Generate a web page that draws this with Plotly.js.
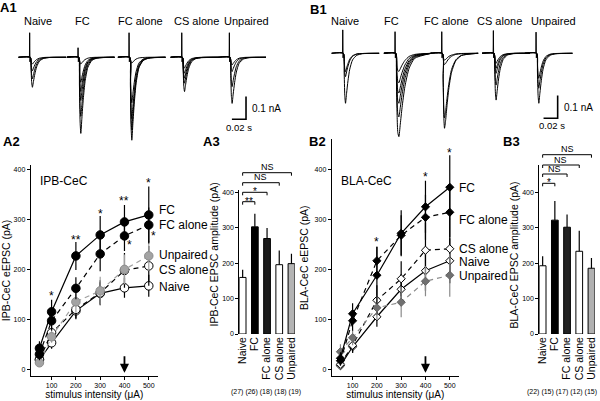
<!DOCTYPE html>
<html><head><meta charset="utf-8">
<script src="https://cdn.plot.ly/plotly-3.0.1.min.js"></script>
<style>html,body{margin:0;padding:0;background:#fff}#chart{width:600px;height:401px}</style>
</head><body><div id="chart"></div>
<script>
// ---------------- DATA ----------------
const groups = ['Naive', 'FC', 'FC alone', 'CS alone', 'Unpaired'];
const intensities = [50, 100, 200, 300, 400, 500];
const intensityTicks = [100, 200, 300, 400, 500];
const ampTicks = [0, 100, 200, 300, 400];

// A2: IPB-CeC eEPSC (pA)
const ipbNaive    = [19, 53, 117, 152, 163, 167];
const ipbFC       = [42, 115, 227, 269, 295, 309];
const ipbFCalone  = [30, 97, 162, 231, 267, 289];
const ipbCSalone  = [19, 73, 120, 153, 198, 207];
const ipbUnpaired = [13, 65, 135, 157, 200, 227];
const ipbNaiveErr    = [8, 12, 15, 22, 20, 22];
const ipbFCErr       = [14, 24, 28, 38, 34, 57];
const ipbFCaloneErr  = [12, 20, 22, 35, 30, 35];
const ipbCSaloneErr  = [8, 12, 20, 25, 35, 40];
const ipbUnpairedErr = [8, 12, 22, 28, 30, 30];

// B2: BLA-CeC eEPSC (pA)
const blaNaive    = [7, 45, 105, 160, 197, 217];
const blaFC       = [22, 111, 188, 272, 325, 364];
const blaFCalone  = [17, 97, 217, 268, 304, 314];
const blaCSalone  = [10, 48, 138, 181, 238, 241];
const blaUnpaired = [35, 63, 123, 134, 176, 188];
const blaNaiveErr    = [6, 12, 20, 30, 40, 45];
const blaFCErr       = [12, 21, 57, 46, 52, 64];
const blaFCaloneErr  = [10, 20, 28, 40, 45, 50];
const blaCSaloneErr  = [6, 15, 30, 35, 55, 60];
const blaUnpairedErr = [15, 15, 25, 30, 30, 43];

// A3 / B3 bar charts
const ipbBar    = [160, 303, 270, 196, 199];
const ipbBarErr = [22, 37, 30, 40, 28];
const ipbN      = ['(27)', '(26)', '(18)', '(18)', '(19)'];
const blaBar    = [193, 322, 302, 234, 186];
const blaBarErr = [27, 54, 36, 58, 29];
const blaN      = ['(22)', '(15)', '(17)', '(12)', '(15)'];

// A1 / B1 example current traces (time in ms, current in pA)
const traceTime = [-16, 1, 2, 3, 4, 5.5, 7.5, 10, 14, 20, 28, 52];
const artifactTime = [-0.2, 0.1, 0.5, 1.0];
const a1ArtifactUp = [108, 42, 108, 108, 108];
const b1ArtifactUp = [103, 95, 95, 100, 93];

const a1Naive = [
  [0,0,-46,-112,-132,-106,-73,-42,-17,-5,-1,0],
  [0,0,-33,-81,-95,-76,-52,-30,-12,-4,-1,0],
  [0,0,-21,-51,-60,-48,-33,-19,-8,-2,-1,0],
  [0,0,-11,-26,-30,-24,-17,-10,-4,-1,0,0]];
const a1FC = [
  [0,0,-117,-285,-335,-268,-184,-107,-44,-13,-3,0],
  [0,0,-91,-221,-260,-208,-143,-83,-34,-10,-3,0],
  [0,0,-67,-162,-190,-152,-105,-61,-25,-8,-2,0],
  [0,0,-53,-128,-150,-120,-83,-48,-20,-6,-2,0],
  [0,0,-39,-94,-110,-88,-61,-35,-14,-4,-1,0],
  [0,0,-11,-26,-30,-24,-17,-10,-4,-1,0,0]];
const a1FCalone = [
  [0,0,-128,-310,-365,-292,-201,-117,-47,-15,-4,0],
  [0,0,-112,-272,-320,-256,-176,-102,-42,-13,-3,0],
  [0,0,-95,-230,-270,-216,-149,-86,-35,-11,-3,0],
  [0,0,-70,-170,-200,-160,-110,-64,-26,-8,-2,0],
  [0,0,-9,-22,-26,-21,-14,-8,-3,-1,0,0]];
const a1CSalone = [
  [0,0,-53,-128,-151,-121,-83,-48,-20,-6,-2,0],
  [0,0,-40,-97,-114,-91,-63,-36,-15,-5,-1,0],
  [0,0,-32,-78,-92,-74,-51,-29,-12,-4,-1,0],
  [0,0,-25,-60,-70,-56,-39,-22,-9,-3,-1,0],
  [0,0,-17,-41,-48,-38,-26,-15,-6,-2,0,0]];
const a1Unpaired = [
  [0,0,-71,-173,-203,-162,-112,-65,-26,-8,-2,0],
  [0,0,-45,-110,-129,-103,-71,-41,-17,-5,-1,0],
  [0,0,-22,-54,-63,-50,-35,-20,-8,-3,-1,0],
  [0,0,-12,-29,-34,-27,-19,-11,-4,-1,0,0]];

const b1Naive = [
  [0,0,-77,-187,-220,-176,-121,-70,-29,-9,-2,0],
  [0,0,-36,-88,-103,-82,-57,-33,-13,-4,-1,0],
  [0,0,-28,-69,-81,-65,-45,-26,-11,-3,-1,0]];
const b1FC = [
  [0,0,-110,-275,-349,-367,-312,-239,-147,-66,-22,0],
  [0,0,-84,-210,-266,-280,-238,-182,-112,-50,-17,0],
  [0,0,-66,-165,-209,-220,-187,-143,-88,-40,-13,0],
  [0,0,-53,-131,-166,-175,-149,-114,-70,-32,-11,0],
  [0,0,-39,-98,-124,-130,-111,-85,-52,-23,-8,0],
  [0,0,-24,-60,-76,-80,-68,-52,-32,-14,-5,0]];
const b1FCalone = [
  [0,0,-116,-281,-330,-297,-231,-158,-83,-33,-10,0],
  [0,0,-100,-242,-285,-257,-200,-137,-71,-29,-9,0],
  [0,0,-18,-43,-50,-45,-35,-24,-13,-5,-2,0],
  [0,0,-11,-26,-30,-27,-21,-14,-8,-3,-1,0]];
const b1CSalone = [
  [0,0,-72,-175,-206,-165,-113,-66,-27,-8,-2,0],
  [0,0,-49,-119,-140,-112,-77,-45,-18,-6,-1,0],
  [0,0,-31,-75,-88,-70,-48,-28,-11,-4,-1,0],
  [0,0,-23,-56,-66,-53,-36,-21,-9,-3,-1,0],
  [0,0,-15,-37,-44,-35,-24,-14,-6,-2,0,0]];
const b1Unpaired = [
  [0,0,-77,-187,-220,-176,-121,-70,-29,-9,-2,0],
  [0,0,-54,-131,-154,-123,-85,-49,-20,-6,-2,0],
  [0,0,-39,-94,-110,-88,-61,-35,-14,-4,-1,0]];

// ---------------- LAYOUT HELPERS ----------------
const W = 600, H = 401;
const fx = px => px / W;
const fy = py => 1 - py / H;
const FONT = 'Liberation Sans, Arial, Helvetica, sans-serif';

const axisBase = {
  showline: true, linecolor: 'black', linewidth: 1,
  ticks: 'outside', ticklen: 3, tickwidth: 1, tickcolor: 'black',
  showgrid: false, zeroline: false, fixedrange: true,
  tickfont: {size: 7, color: 'black', family: FONT}
};

const layout = {
  width: W, height: H, margin: {l: 0, r: 0, t: 0, b: 0},
  paper_bgcolor: 'white', plot_bgcolor: 'rgba(0,0,0,0)',
  showlegend: false, font: {family: FONT, color: 'black'},
  shapes: [], annotations: []
};

// A2 (x, y)
layout.xaxis = Object.assign({}, axisBase, {
  domain: [fx(30.7), fx(158)], range: [14, 538], anchor: 'y',
  tickvals: intensityTicks,
  title: {text: 'stimulus intensity (\u03bcA)', font: {size: 10}, standoff: 1}
});
layout.yaxis = Object.assign({}, axisBase, {
  domain: [fy(376), fy(165)], range: [-13.5, 409], anchor: 'x',
  tickvals: ampTicks,
  title: {text: 'IPB-CeC eEPSC (pA)', font: {size: 10.5}, standoff: 3}
});
// A3 (x2, y2)
const catAxis = {
  range: [-0.275, 4.275], type: 'category', showline: false, ticks: '', tickangle: -90,
  tickmode: 'array', tickvals: groups, ticktext: groups,
  tickfont: {size: 10.5, color: 'black', family: FONT}
};
layout.xaxis2 = Object.assign({}, axisBase, catAxis, {domain: [fx(239.3), fx(294.8)], anchor: 'y2'});
layout.yaxis2 = Object.assign({}, axisBase, {
  domain: [fy(334), fy(190.1)], range: [0, 407], anchor: 'x2', tickvals: ampTicks
});
// B2 (x3, y3)
layout.xaxis3 = Object.assign({}, axisBase, {
  domain: [fx(331.7), fx(459)], range: [14, 538], anchor: 'y3',
  tickvals: intensityTicks,
  title: {text: 'stimulus intensity (\u03bcA)', font: {size: 10}, standoff: 1}
});
layout.yaxis3 = Object.assign({}, axisBase, {
  domain: [fy(376), fy(139.3)], range: [-13.5, 460], anchor: 'x3',
  tickvals: ampTicks,
  title: {text: 'BLA-CeC eEPSC (pA)', font: {size: 10.5}, standoff: 3}
});
// B3 (x4, y4)
layout.xaxis4 = Object.assign({}, axisBase, catAxis, {domain: [fx(539.3), fx(594.8)], anchor: 'y4'});
layout.yaxis4 = Object.assign({}, axisBase, {
  domain: [fy(334), fy(165)], range: [0, 478], anchor: 'x4', tickvals: ampTicks
});

const traces = [];

// ---------------- A1 / B1 example traces ----------------
const a1Sets = [a1Naive, a1FC, a1FCalone, a1CSalone, a1Unpaired];
const b1Sets = [b1Naive, b1FC, b1FCalone, b1CSalone, b1Unpaired];
const a1Starts = [18.3, 66.7, 117.7, 170.4, 218];
const b1Starts = [331.4, 383.7, 430.4, 482, 524.7];
function addTracePanel(n, startPx, yTopPx, sets, artUp) {
  layout['xaxis' + n] = {domain: [fx(startPx), fx(startPx + 48)], range: [-16, 52],
    visible: false, anchor: 'y' + n, fixedrange: true};
  layout['yaxis' + n] = {domain: [fy(yTopPx + 130), fy(yTopPx)], range: [-408, 164],
    visible: false, anchor: 'x' + n, fixedrange: true};
  sets.forEach(arr => traces.push({type: 'scatter', mode: 'lines', x: traceTime, y: arr,
    xaxis: 'x' + n, yaxis: 'y' + n, hoverinfo: 'skip',
    line: {color: 'black', width: 1, shape: 'spline', smoothing: 0.6}}));
  traces.push({type: 'scatter', mode: 'lines', x: artifactTime, y: [0, artUp, -20, 0],
    xaxis: 'x' + n, yaxis: 'y' + n, hoverinfo: 'skip', line: {color: 'black', width: 1}});
}
for (let i = 0; i < 5; i++) {
  addTracePanel(5 + i, a1Starts[i], 20, a1Sets[i], a1ArtifactUp[i]);
  addTracePanel(10 + i, b1Starts[i], 16, b1Sets[i], b1ArtifactUp[i]);
}
// scale bars (0.1 nA, 0.02 s)
[['x9', 'y9', 23.7, -273], ['x14', 'y14', 30.7, -286]].forEach(([xa, ya, t, y0]) => {
  layout.shapes.push({type: 'path', xref: xa, yref: ya,
    path: `M ${t},${y0 + 100} L ${t},${y0} L ${t - 20},${y0}`, line: {color: 'black', width: 1.6}});
});

// ---------------- A2 / B2 line charts ----------------
function addSeries(xa, ya, y, err, symbol, size, fill, edge, dash, lineColor) {
  traces.push({type: 'scatter', mode: 'lines+markers', x: intensities, y: y,
    xaxis: xa, yaxis: ya, cliponaxis: false, hoverinfo: 'skip',
    line: {color: lineColor, width: 1.2, dash: dash},
    marker: {symbol: symbol, size: size, color: fill, line: {color: edge, width: 1}},
    error_y: {type: 'data', array: err, visible: true, width: 0, thickness: 1.2, color: lineColor}});
}
const DASH = '5px,4px';
addSeries('x', 'y', ipbNaive, ipbNaiveErr, 'circle', 8.5, 'white', 'black', 'solid', 'black');
addSeries('x', 'y', ipbCSalone, ipbCSaloneErr, 'circle', 8.5, 'white', 'black', DASH, 'black');
addSeries('x', 'y', ipbUnpaired, ipbUnpairedErr, 'circle', 8.5, '#a3a3a3', '#8c8c8c', DASH, '#a0a0a0');
addSeries('x', 'y', ipbFCalone, ipbFCaloneErr, 'circle', 8.5, 'black', 'black', DASH, 'black');
addSeries('x', 'y', ipbFC, ipbFCErr, 'circle', 8.5, 'black', 'black', 'solid', 'black');

addSeries('x3', 'y3', blaNaive, blaNaiveErr, 'diamond', 6.3, 'white', 'black', 'solid', 'black');
addSeries('x3', 'y3', blaCSalone, blaCSaloneErr, 'diamond', 6.3, 'white', 'black', DASH, 'black');
addSeries('x3', 'y3', blaUnpaired, blaUnpairedErr, 'diamond', 6.3, '#707070', '#606060', DASH, '#8a8a8a');
addSeries('x3', 'y3', blaFCalone, blaFCaloneErr, 'diamond', 6.3, 'black', 'black', DASH, 'black');
addSeries('x3', 'y3', blaFC, blaFCErr, 'diamond', 6.3, 'black', 'black', 'solid', 'black');

// ---------------- A3 / B3 bar charts ----------------
function addBars(xa, ya, vals, errs, colors) {
  traces.push({type: 'bar', x: groups, y: vals, xaxis: xa, yaxis: ya, width: 0.55,
    hoverinfo: 'skip',
    marker: {color: colors, line: {color: 'black', width: 1}},
    error_y: {type: 'data', symmetric: false, array: errs, arrayminus: errs.map(() => 0),
      visible: true, width: 0, thickness: 1.2, color: 'black'}});
}
addBars('x2', 'y2', ipbBar, ipbBarErr, ['white', 'black', '#1c1c1c', 'white', '#b4b4b4']);
addBars('x4', 'y4', blaBar, blaBarErr, ['white', 'black', '#222222', 'white', '#b0b0b0']);

// ---------------- ANNOTATIONS ----------------
function paperText(text, xpx, ypx, size, xanchor, extra) {
  layout.annotations.push(Object.assign({xref: 'paper', yref: 'paper', x: fx(xpx), y: fy(ypx),
    text: text, showarrow: false, xanchor: xanchor || 'center', yanchor: 'middle',
    font: {size: size, color: 'black'}}, extra || {}));
}

// significance brackets (drawn in page pixels above the bar panels)
function addBrackets(axisLeftPx, levels) {
  const catPx = k => axisLeftPx + (k + 0.275) * 12.2;
  levels.forEach(([to, ypx, label]) => {
    const x0 = fx(catPx(0)), x1 = fx(catPx(to)), y = fy(ypx), yt = fy(ypx + 3);
    layout.shapes.push({type: 'path', xref: 'paper', yref: 'paper',
      path: `M ${x0},${yt} L ${x0},${y} L ${x1},${y} L ${x1},${yt}`,
      line: {color: 'black', width: 1}});
    const isStar = label.indexOf('*') >= 0;
    paperText(label, (catPx(0) + catPx(to)) / 2, ypx - (isStar ? 0.5 : 5.4), isStar ? 10 : 9);
  });
}
addBrackets(239.3, [[1, 201.7, '**'], [2, 192.3, '*'], [3, 182.7, 'NS'], [4, 172.7, 'NS']]);
addBrackets(539.3, [[1, 183.3, '*'], [2, 174, 'NS'], [3, 165, 'NS'], [4, 154.7, 'NS']]);

// bar-chart y titles
paperText('IPB-CeC EPSC amplitude (pA)', 213.5, 255, 10.5, 'center', {textangle: -90});
paperText('BLA-CeC EPSC amplitude (pA)', 513.5, 255, 10.5, 'center', {textangle: -90});

// panel letters
[['A1', 8.5, 7.5], ['B1', 318.5, 9], ['A2', 11, 141.5], ['A3', 211, 142], ['B2', 317.5, 142], ['B3', 511.5, 142]]
  .forEach(([t, x, y]) => paperText('<b>' + t + '</b>', x, y, 13));
// group names above traces
const a1LabelX = [38.3, 82.7, 140, 196.7, 246.7];
const b1LabelX = [345, 391.7, 446.7, 499.3, 553.3];
groups.forEach((g, i) => { paperText(g, a1LabelX[i], 20.7, 11); paperText(g, b1LabelX[i], 20.7, 11); });
// scale bar labels
paperText('0.1 nA', 249.5, 108.3, 10, 'left');
paperText('0.02 s', 238.5, 127.3, 9.5);
paperText('0.1 nA', 561.7, 107.3, 10, 'left');
paperText('0.02 s', 552, 126, 9.5);
// n per group
paperText(ipbN.join(' '), 265.5, 392, 7);
paperText(blaN.join(' '), 562, 392, 7);

// line chart annotations (data coordinates)
function dataText(xa, ya, x, y, text, size, xanchor) {
  layout.annotations.push({xref: xa, yref: ya, x: x, y: y, text: text, showarrow: false,
    xanchor: xanchor || 'center', yanchor: 'middle', font: {size: size, color: 'black'}});
}
dataText('x', 'y', 45, 377, 'IPB-CeC', 12, 'left');
dataText('x3', 'y3', 45, 377, 'BLA-CeC', 12, 'left');
const a2Labels = [['FC', 319], ['FC alone', 289], ['Unpaired', 229], ['CS alone', 199], ['Naive', 165]];
a2Labels.forEach(([t, v]) => dataText('x', 'y', 532, v, t, 12, 'left'));
const b2Labels = [['FC', 362], ['FC alone', 299], ['CS alone', 241], ['Naive', 215], ['Unpaired', 187]];
b2Labels.forEach(([t, v]) => dataText('x3', 'y3', 528, v, t, 12, 'left'));
// asterisks
[[100, 147, '*'], [200, 259, '**'], [300, 311, '*'], [400, 337, '**'], [500, 373, '*'], [422, 249, '*'], [521, 267, '*']]
  .forEach(([x, y, t]) => dataText('x', 'y', x, y, t, 12));
[[200, 254, '*'], [400, 385, '*'], [500, 433, '*']]
  .forEach(([x, y, t]) => dataText('x3', 'y3', x, y, t, 12));
// arrows at 400 uA
[['x', 'y'], ['x3', 'y3']].forEach(([xa, ya]) => layout.annotations.push({
  xref: xa, yref: ya, axref: xa, ayref: ya, x: 400, y: -7, ax: 400, ay: 29, text: '',
  showarrow: true, arrowhead: 2, arrowsize: 1, arrowwidth: 1.8, arrowcolor: 'black'}));

Plotly.newPlot('chart', traces, layout, {staticPlot: true, displayModeBar: false});
</script></body></html>
